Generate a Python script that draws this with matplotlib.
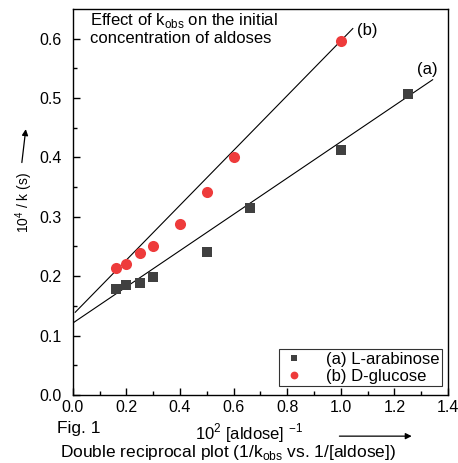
import matplotlib
matplotlib.use('Agg')
import numpy as np
import matplotlib.pyplot as plt

plt.rcParams['font.family'] = ['Liberation Sans', 'DejaVu Sans']
plt.rcParams['mathtext.fontset'] = 'custom'
plt.rcParams['mathtext.rm'] = 'Liberation Sans'

# (a) L-arabinose
ara_x = [0.16, 0.2, 0.25, 0.3, 0.5, 0.66, 1.0, 1.25]
ara_y = [0.179, 0.185, 0.188, 0.198, 0.241, 0.315, 0.413, 0.507]
# (b) D-glucose
glu_x = [0.16, 0.2, 0.25, 0.3, 0.4, 0.5, 0.6, 1.0]
glu_y = [0.213, 0.220, 0.239, 0.251, 0.288, 0.341, 0.400, 0.596]

# fitted lines: intercept, slope, x range
fit_a = (0.121, 0.305, 0.0, 1.343)
fit_b = (0.135, 0.461, 0.009, 1.045)

fig = plt.figure(figsize=(4.58, 4.63), dpi=100)
ax = fig.add_axes([0.159, 0.147, 0.819, 0.834])

for b, m, x0, x1 in (fit_a, fit_b):
    xx = np.array([x0, x1])
    ax.plot(xx, b + m * xx, color='black', lw=0.8)

ax.plot(ara_x, ara_y, 's', color='#404040', ms=7, mew=0, label='(a) L-arabinose')
ax.plot(glu_x, glu_y, 'o', color='#ee3b3b', ms=8, mew=0, label='(b) D-glucose')

ax.set_xlim(0, 1.4)
ax.set_ylim(0, 0.65)
ax.set_xticks(np.arange(0, 1.41, 0.2))
ax.set_xticks(np.arange(0.1, 1.4, 0.2), minor=True)
ax.set_yticks(np.arange(0, 0.61, 0.1))
ax.set_yticks(np.arange(0.05, 0.65, 0.1), minor=True)
ax.xaxis.set_major_formatter(matplotlib.ticker.FormatStrFormatter('%.1f'))
ax.yaxis.set_major_formatter(matplotlib.ticker.FormatStrFormatter('%.1f'))
ax.tick_params(direction='in', labelsize=11.5, length=5, width=1)
ax.tick_params(which='minor', direction='in', length=3, width=1)
ax.tick_params(axis='y', pad=8)
ax.tick_params(axis='x', pad=4)
for s in ax.spines.values():
    s.set_linewidth(1)

ax.text(0.065, 0.617, 'Effect of k$_{\\rm obs}$ on the initial\nconcentration of aldoses',
        fontsize=12, va='center', linespacing=1.1)
ax.text(1.06, 0.614, '(b)', fontsize=12, va='center')
ax.text(1.285, 0.548, '(a)', fontsize=12, va='center')

leg = ax.legend(loc='lower right', bbox_to_anchor=(0.985, 0.023), fontsize=12,
                frameon=True, fancybox=False, edgecolor='black', handletextpad=1.2,
                borderpad=0.15, labelspacing=0.1, handlelength=1.5, markerscale=0.7,
                borderaxespad=0)
leg.get_frame().set_linewidth(0.8)

# axis labels with arrows
fig.text(0.052, 0.563, '10$^4$ / k (s)', rotation=90, fontsize=10, ha='center', va='center')
fig.add_artist(matplotlib.patches.FancyArrowPatch((0.047, 0.643), (0.057, 0.727),
               transform=fig.transFigure, arrowstyle='-|>', mutation_scale=9, lw=0.9, color='black'))
fig.text(0.425, 0.064, '10$^2$ [aldose] $^{-1}$', fontsize=12, va='center')
fig.add_artist(matplotlib.patches.FancyArrowPatch((0.735, 0.058), (0.905, 0.058),
               transform=fig.transFigure, arrowstyle='-|>', mutation_scale=9, lw=0.9, color='black'))
fig.text(0.125, 0.075, 'Fig. 1', fontsize=12.5, va='center')
fig.text(0.13, 0.022, 'Double reciprocal plot (1/k$_{\\rm obs}$ vs. 1/[aldose])',
         fontsize=12.5, va='center')

fig.savefig('out.png', dpi=100)
